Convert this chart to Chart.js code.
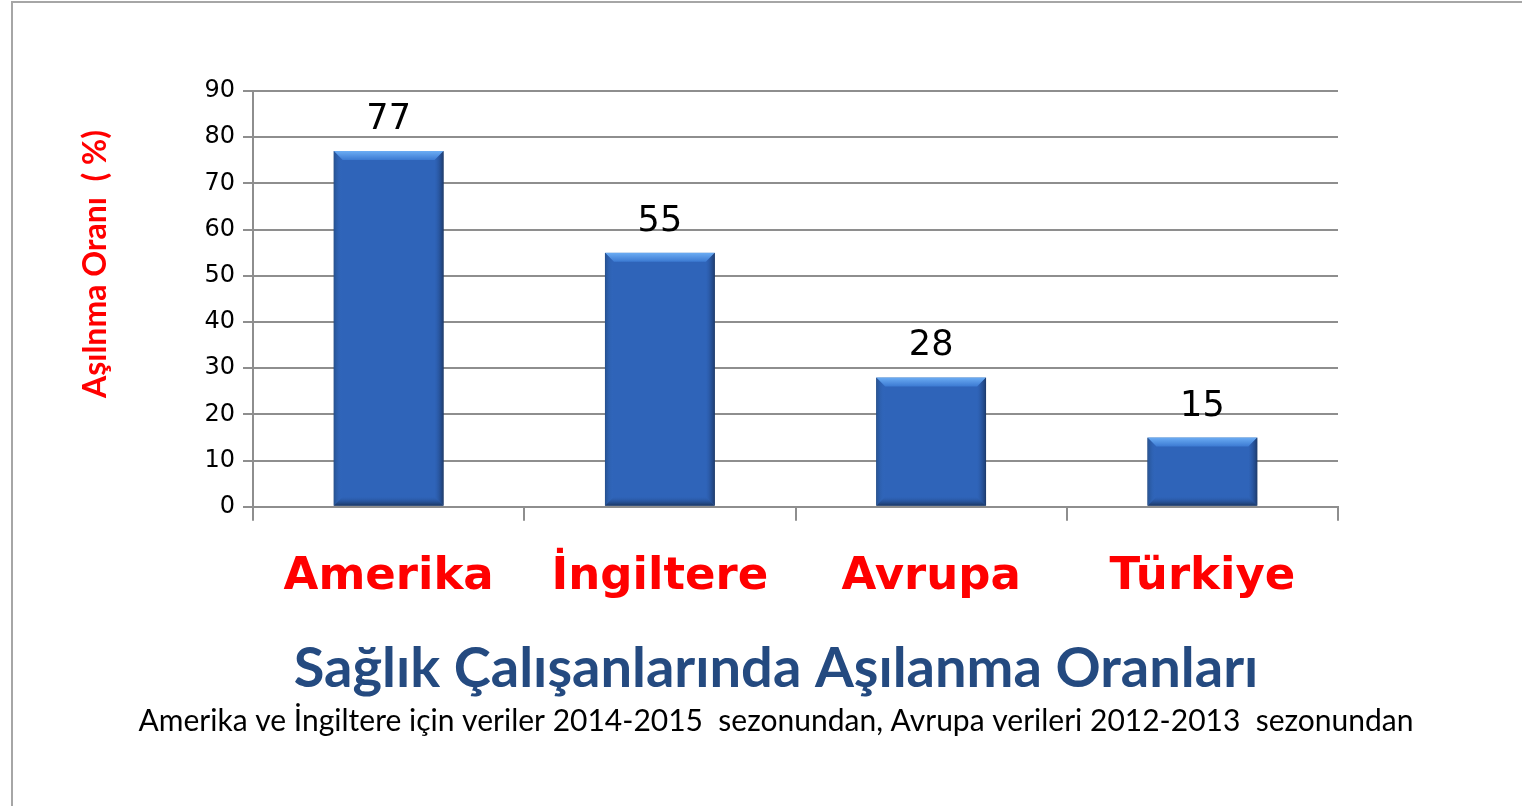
<!DOCTYPE html>
<html>
<head>
<meta charset="utf-8">
<script src="https://cdn.jsdelivr.net/npm/chart.js@4/dist/chart.umd.min.js"></script>
<style>
  html, body { margin: 0; padding: 0; background: #fff; overflow: hidden; }
  #frame {
    position: absolute; left: 11px; top: 1px; width: 1600px; height: 900px;
    border-left: 2px solid #a6a6a6; border-top: 2px solid #a6a6a6;
  }
  #wrap { position: absolute; left: 0; top: 0; width: 1526px; height: 803px; }
</style>
</head>
<body>
<div id="frame"><div id="wrap"><canvas id="chart"></canvas></div></div>
<script>
const categories = ["Amerika", "İngiltere", "Avrupa", "Türkiye"];
const rates = [77, 55, 28, 15];
const yMin = 0;
const yMax = 90;
const yStep = 10;
const yTitleText = "Aşılnma Oranı  ( %)";
const titleText = "Sağlık Çalışanlarında Aşılanma Oranları";
const subtitleText = "Amerika ve İngiltere için veriler 2014-2015  sezonundan, Avrupa verileri 2012-2013  sezonundan";

const gridGray = "#8e8e8e";

// soft drop shadow under the bars
const shadowPlugin = {
  id: "barShadow",
  beforeDatasetsDraw(chart) {
    const ctx = chart.ctx;
    ctx.save();
    ctx.shadowColor = "rgba(0,0,0,0.35)";
    ctx.shadowBlur = 6;
    ctx.shadowOffsetX = 1;
    ctx.shadowOffsetY = 1;
  },
  afterDatasetsDraw(chart) {
    chart.ctx.restore();
  }
};

// bevel edges + value labels, positioned from the bar elements
const bevelPlugin = {
  id: "bevel",
  afterDatasetsDraw(chart) {
    const ctx = chart.ctx;
    const meta = chart.getDatasetMeta(0);
    meta.data.forEach((bar, i) => {
      const p = bar.getProps(["x", "y", "width", "base"], true);
      const l = p.x - p.width / 2, r = p.x + p.width / 2, t = p.y, b = p.base;
      const e = 9;
      ctx.save();
      // top highlight
      let g = ctx.createLinearGradient(0, t, 0, t + e);
      g.addColorStop(0, "#6cadf4");
      g.addColorStop(1, "#3c7ad2");
      ctx.fillStyle = g;
      ctx.beginPath();
      ctx.moveTo(l, t); ctx.lineTo(r, t); ctx.lineTo(r - e, t + e); ctx.lineTo(l + e, t + e);
      ctx.closePath(); ctx.fill();
      // left edge
      g = ctx.createLinearGradient(l, 0, l + e, 0);
      g.addColorStop(0, "#24508f");
      g.addColorStop(1, "rgba(52,108,196,0)");
      ctx.fillStyle = g;
      ctx.beginPath();
      ctx.moveTo(l, t); ctx.lineTo(l + e, t + e); ctx.lineTo(l + e, b - e); ctx.lineTo(l, b);
      ctx.closePath(); ctx.fill();
      // right edge
      g = ctx.createLinearGradient(r, 0, r - e, 0);
      g.addColorStop(0, "#1c3a6c");
      g.addColorStop(1, "rgba(40,85,160,0)");
      ctx.fillStyle = g;
      ctx.beginPath();
      ctx.moveTo(r, t); ctx.lineTo(r - e, t + e); ctx.lineTo(r - e, b - e); ctx.lineTo(r, b);
      ctx.closePath(); ctx.fill();
      // bottom edge
      g = ctx.createLinearGradient(0, b, 0, b - e);
      g.addColorStop(0, "#1a355f");
      g.addColorStop(1, "rgba(40,85,160,0)");
      ctx.fillStyle = g;
      ctx.beginPath();
      ctx.moveTo(l, b); ctx.lineTo(r, b); ctx.lineTo(r - e, b - e); ctx.lineTo(l + e, b - e);
      ctx.closePath(); ctx.fill();
      ctx.restore();

      // value label
      ctx.save();
      ctx.font = "35px 'DejaVu Sans'";
      ctx.fillStyle = "#000";
      ctx.textAlign = "center";
      ctx.textBaseline = "alphabetic";
      ctx.fillText(String(rates[i]), p.x, t - 22);
      ctx.restore();
    });
  }
};

// rotated y-axis title
const yTitlePlugin = {
  id: "yTitle",
  afterDraw(chart) {
    const ctx = chart.ctx;
    ctx.save();
    ctx.translate(83, 261);
    ctx.rotate(-Math.PI / 2);
    ctx.font = "bold 32px Lato";
    ctx.fillStyle = "#ff0000";
    ctx.textAlign = "center";
    ctx.textBaseline = "middle";
    ctx.fillText(yTitleText, 0, 0);
    ctx.restore();
  }
};

new Chart(document.getElementById("chart").getContext("2d"), {
  type: "bar",
  data: {
    labels: categories,
    datasets: [{
      data: rates,
      backgroundColor: "#2f64b9",
      borderColor: "#27508f",
      borderWidth: 1,
      categoryPercentage: 1,
      barPercentage: 0.405
    }]
  },
  options: {
    responsive: true,
    maintainAspectRatio: false,
    animation: false,
    layout: { padding: { top: 88, right: 0, bottom: 67, left: 0 } },
    plugins: {
      legend: { display: false },
      tooltip: { enabled: false },
      title: {
        display: true,
        position: "bottom",
        text: titleText,
        color: "#244a80",
        font: { family: "Lato", size: 56, weight: "bold" },
        padding: { top: 34, bottom: 0 },
        weight: 100
      },
      subtitle: {
        display: true,
        position: "bottom",
        text: subtitleText,
        color: "#000",
        font: { family: "Lato", size: 30 },
        padding: { top: 0, bottom: 0 },
        weight: 200
      }
    },
    scales: {
      x: {
        grid: { drawOnChartArea: false, tickLength: 14, color: gridGray, lineWidth: 2 },
        border: { color: gridGray, width: 2 },
        ticks: {
          color: "#ff0000",
          font: { family: "DejaVu Sans", size: 45, weight: "bold" },
          padding: 30,
          maxRotation: 0
        },
        afterFit(scale) { scale.height = 95; }
      },
      y: {
        min: yMin,
        max: yMax,
        ticks: {
          stepSize: yStep,
          color: "#000",
          font: { family: "DejaVu Sans", size: 24 },
          padding: 8
        },
        grid: { color: gridGray, lineWidth: 2, tickLength: 10 },
        border: { color: gridGray, width: 2 },
        afterFit(scale) { scale.width = 240; }
      },
      // empty right-hand space so the bottom titles stay centred on the page
      spacer: {
        position: "right",
        display: true,
        ticks: { display: false },
        grid: { display: false },
        border: { display: false },
        afterFit(scale) { scale.width = 201; }
      }
    }
  },
  plugins: [shadowPlugin, bevelPlugin, yTitlePlugin]
});
</script>
</body>
</html>
